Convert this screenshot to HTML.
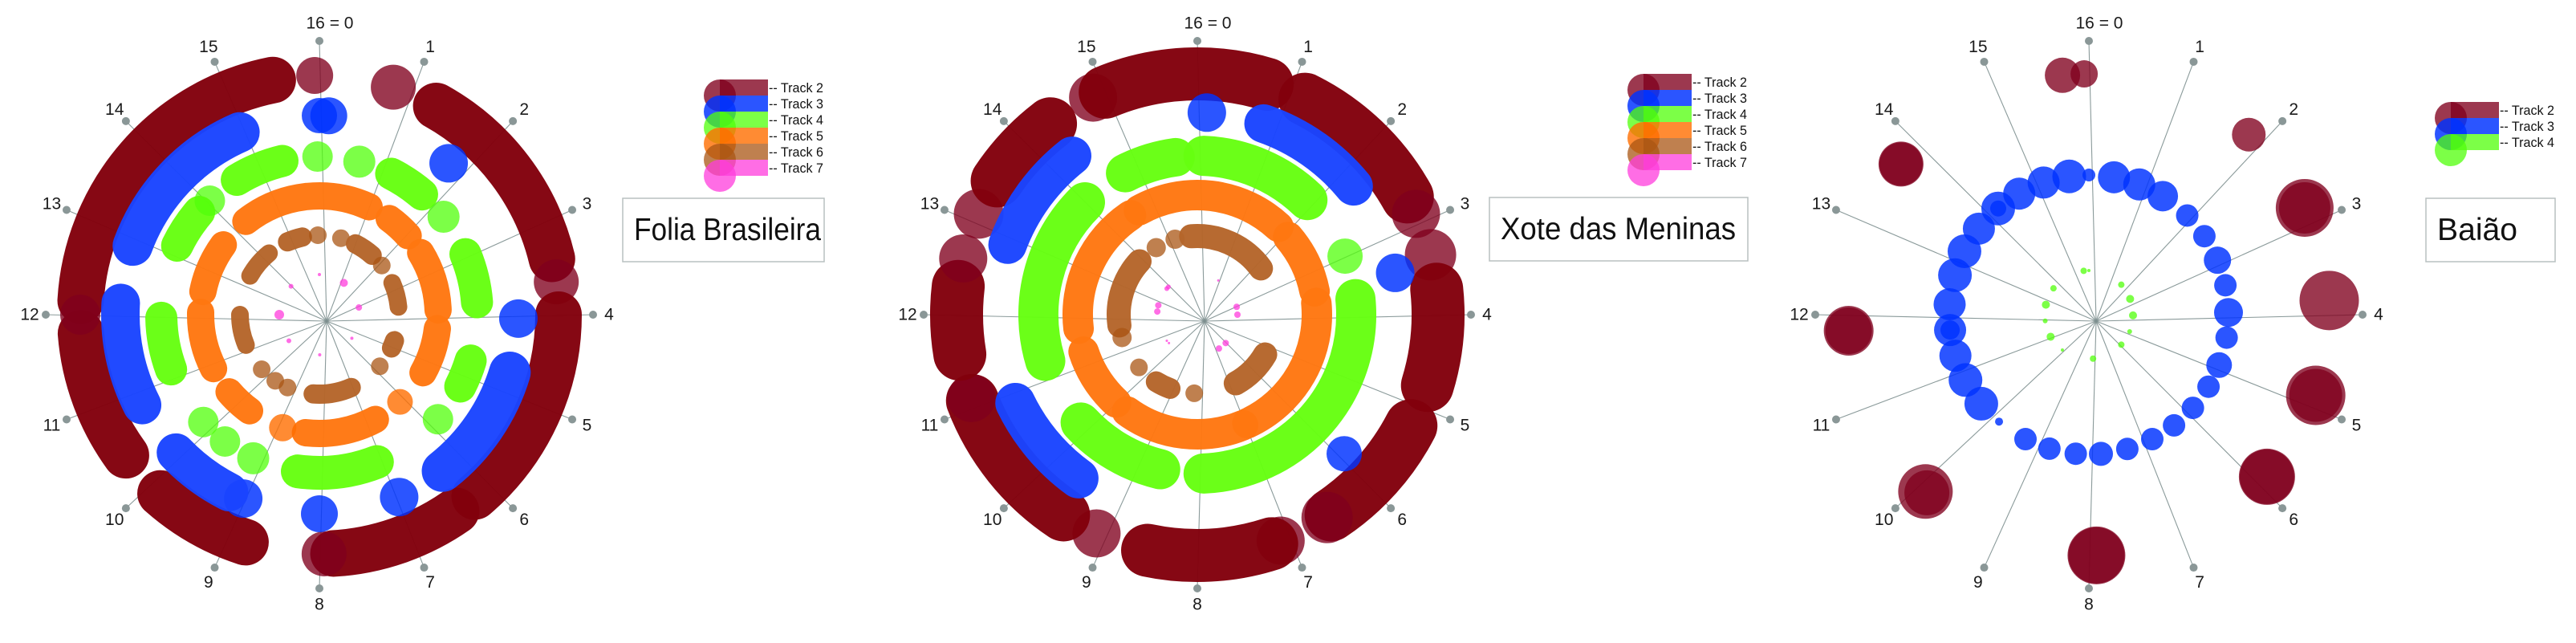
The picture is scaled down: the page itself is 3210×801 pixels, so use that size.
<!DOCTYPE html>
<html><head><meta charset="utf-8">
<style>
html,body{margin:0;padding:0;background:#fff;}
svg{display:block;font-family:"Liberation Sans",sans-serif;}
</style></head>
<body>
<svg id="chart" width="3210" height="801" viewBox="0 0 3210 801" xmlns="http://www.w3.org/2000/svg">
<rect width="3210" height="801" fill="#fff"/>
</svg>
<script>
// ---------- DATA (positions in 16ths of a bar, sizes = bubble radius) ----------
// Folia Brasileira
const folia_t2_start=[12.15,15.95,0.8,1.3,3.65,4.0,6.45,7.95,8.8,10.4,12.0];
const folia_t2_end  =[15.5,15.95,0.8,3.4,3.65,6.2,7.85,7.95,9.85,11.8,12.0];
const folia_t2_size =[29,23,28,29,28,29,29,28,29,29,25];
const folia_t3_start=[0.0,0.12,1.8,4.05,4.75,6.95,8.0,9.0,9.2,10.8,12.9];
const folia_t3_end  =[0.0,0.12,1.8,4.05,6.3,6.95,8.0,9.0,10.05,12.15,14.95];
const folia_t3_size =[22,23,24,24,26,24,23,24,24,24,25];
const folia_t4_start=[15.97,0.65,1.2,2.3,3.0,4.75,5.84,7.05,9.1,9.63,10.1,11.1,13.15,14.05,14.6];
const folia_t4_end  =[15.97,0.65,1.8,2.3,3.8,5.2,5.84,8.35,9.1,9.63,10.1,11.95,13.8,14.05,15.4];
const folia_t4_size =[19,20,20,20,20,20,19,21,20,19,19,20,20,19,20];
const folia_t5_start=[14.3,1.6,2.6,4.3,6.1,6.75,8.8,9.6,10.8,12.5];
const folia_t5_end  =[1.1,2.15,3.9,5.3,6.1,8.3,8.8,10.2,12.05,13.6];
const folia_t5_size =[17,17,17,17,16,17,17,17,17,17];
const folia_t6_start=[14.95,15.95,0.7,1.2,2.3,2.95,4.85,5.8,6.95,9.05,9.5,10.07,11.0,13.3];
const folia_t6_end  =[15.45,15.95,0.7,1.85,2.3,3.75,5.1,5.8,8.2,9.05,9.5,10.07,12.0,14.25];
const folia_t6_size =[12,11,11,12,11,11,12,11,12,11,11,11,11,11];
const folia_t7_start=[0.0,1.67,3.54,5.6,7.98,10.2,12.0,14.0];
const folia_t7_end  =[0.0,1.67,3.54,5.6,7.98,10.2,12.0,14.0];
const folia_t7_size =[2,5,4,2,2,3,6,3];
// Xote das Meninas
const xote_t2_start=[14.86,15.0,1.18,2.9,3.36,3.73,5.22,6.55,7.1,7.2,9.1,9.5,11.1,11.58,12.6,13.1,13.5];
const xote_t2_end  =[14.86,0.75,2.7,2.9,3.36,4.76,6.5,6.55,7.1,8.53,9.1,11.07,11.1,12.3,12.6,13.1,14.33];
const xote_t2_size =[30,33,33,30,32,33,33,32,30,33,30,33,30,33,30,31,33];
const xote_t3_start=[0.12,0.85,3.47,5.93,9.6,12.9];
const xote_t3_end  =[0.12,2.25,3.47,5.93,10.85,14.3];
const xote_t3_size =[24,24,24,22,25,24];
const xote_t4_start=[14.8,0.1,3.04,3.75,8.6,11.25];
const xote_t4_end  =[15.65,1.95,3.04,7.9,10.1,14.0];
const xote_t4_size =[24,25,22,25,25,25];
const xote_t5_start=[14.7,2.2,3.75,7.0,9.9,11.7];
const xote_t5_end  =[1.9,3.5,6.9,9.6,11.2,14.5];
const xote_t5_size =[19,19,19,19,19,19];
const xote_t6_start=[15.27,15.8,14.6,11.65,11.25,10.13,8.9,8.1,5.35];
const xote_t6_end  =[15.27,2.4,14.6,13.9,11.25,10.13,9.4,8.1,6.7];
const xote_t6_size =[12,15,12,15,12,11,13,11,15];
const xote_t7_start=[13.8,13.95,12.6,12.2,1.4,3.5,4.0,6.0,6.55,10.2,10.0];
const xote_t7_end  =[13.8,13.95,12.6,12.2,1.4,3.5,4.0,6.0,6.55,10.2,10.0];
const xote_t7_size =[3,3,4,4,1.5,4,4,4,4,1.5,1.5];
// Baião
const baiao_t2_start=[15.72,15.95,1.85,2.83,2.83,3.85,4.87,4.87,5.88,5.88,7.92,7.92,9.9,9.88,11.83,11.83,13.72,13.72];
const baiao_t2_end  =baiao_t2_start;
const baiao_t2_size =[22,17,21,36,32,37,37,33,35,34,36,35,34,28,31,29,28,27];
const baiao_t3_start=[0.0,0.46,0.94,1.42,1.99,2.48,2.98,3.46,3.96,4.42,4.94,5.38,5.86,6.33,6.8,7.29,7.78,8.24,8.73,9.2,9.78,10.24,10.76,11.24,11.72,11.72,12.19,12.73,13.2,13.69,14.2,14.2,14.67,15.16,15.64];
const baiao_t3_end  =baiao_t3_start;
const baiao_t3_size =[8,20,20,19,14,14,17,14,18,14,16,14,14,14,14,14,15,14,14,14,5,21,21,20,20,12,20,21,21,20,21,10,20,20,21];
const baiao_t4_start=[15.7,0.0,2.1,3.07,4.04,5.0,5.9,7.76,9.64,10.67,11.64,12.58,13.63];
const baiao_t4_end  =baiao_t4_start;
const baiao_t4_size =[4,2,4,5,5,3,4,4,2,5,3,5,4];
const axisLabels=["16 = 0","1","2","3","4","5","6","7","8","9","10","11","12","13","14","15"];
const trackNames=["Track 2","Track 3","Track 4","Track 5","Track 6","Track 7"];

// ---------- STYLE ----------
const NS="http://www.w3.org/2000/svg";
const svg=document.getElementById('chart');
const trackColor=["rgb(128,0,30)","rgb(0,50,255)","rgb(80,255,10)","rgb(255,110,0)","rgb(170,85,20)","rgb(255,60,220)"];
const arcColor=["#82000c","#1a44ff","#66ff11","#ff7711","#b5652a","#ff4ddd"];
const alphas=[0.78,0.83,0.75,0.8,0.75,0.75];

function mk(tag,attrs,parent){const e=document.createElementNS(NS,tag);for(const k in attrs)e.setAttribute(k,attrs[k]);(parent||svg).appendChild(e);return e;}
function pt(cx,cy,r,p){const a=p*Math.PI/8;return [cx+r*Math.sin(a),cy-r*Math.cos(a)];}

const plots=[
 {key:'folia',title:'Folia Brasileira',cx:398,cy:392,radii:[298,248,197,148,99,50],
  tracks:[[folia_t2_start,folia_t2_end,folia_t2_size],[folia_t3_start,folia_t3_end,folia_t3_size],[folia_t4_start,folia_t4_end,folia_t4_size],[folia_t5_start,folia_t5_end,folia_t5_size],[folia_t6_start,folia_t6_end,folia_t6_size],[folia_t7_start,folia_t7_end,folia_t7_size]],
  legend:{x:897,y:99},box:{x:776,y:247,w:251,h:79,tl:233}},
 {key:'xote',title:'Xote das Meninas',cx:1492,cy:392,radii:[300,252,198,149,98,50],
  tracks:[[xote_t2_start,xote_t2_end,xote_t2_size],[xote_t3_start,xote_t3_end,xote_t3_size],[xote_t4_start,xote_t4_end,xote_t4_size],[xote_t5_start,xote_t5_end,xote_t5_size],[xote_t6_start,xote_t6_end,xote_t6_size],[xote_t7_start,xote_t7_end,xote_t7_size]],
  legend:{x:2048,y:92},box:{x:1856,y:246,w:322,h:79,tl:293}},
 {key:'baiao',title:'Baião',cx:2603,cy:392,radii:[300,174,55],
  tracks:[[baiao_t2_start,baiao_t2_end,baiao_t2_size],[baiao_t3_start,baiao_t3_end,baiao_t3_size],[baiao_t4_start,baiao_t4_end,baiao_t4_size]],
  legend:{x:3054,y:127},box:{x:3023,y:247,w:161,h:79,tl:100}}
];

plots.forEach(P=>{
 const g=mk('g',{});
 
 
 // spokes, dots, labels (under marks)
 const ox=P.cx+9,oy=400;
 for(let k=0;k<16;k++){
  const [x,y]=pt(P.cx,P.cy,341,k);
  const l=mk('line',{x1:ox,y1:oy,x2:x,y2:y,stroke:'#7d8f8f','stroke-width':1.1,'stroke-opacity':0.9},g);
  
  
  const d=mk('circle',{cx:x,cy:y,r:5,fill:'#8a9797'},g);
  
  
  let [lx,ly]=pt(P.cx,P.cy,361,k);
  if(k===0){lx+=13;ly-=2;}
  const t=mk('text',{x:lx,y:ly,'text-anchor':'middle','dominant-baseline':'central','font-size':21,fill:'#1a1a1a'},g);
  t.textContent=axisLabels[k];
  
  
 }
 // marks
 P.tracks.forEach((T,ti)=>{
  const tg=mk('g',{},g);
  
  
  const [st,en,sz]=T; const r=P.radii[ti];
  for(let i=0;i<st.length;i++){
   let s=st[i],e=en[i]; if(e<s) e+=16;
   if(e-s<0.05){
    const [x,y]=pt(P.cx,P.cy,r,s);
    const c=mk('circle',{cx:x,cy:y,r:sz[i],fill:trackColor[ti],'fill-opacity':alphas[ti]},tg);
    
    
   }else{
    const [x1,y1]=pt(P.cx,P.cy,r,s),[x2,y2]=pt(P.cx,P.cy,r,e);
    const large=(e-s)>8?1:0;
    const p=mk('path',{d:`M${x1},${y1} A${r},${r} 0 ${large} 1 ${x2},${y2}`,fill:'none',stroke:arcColor[ti],'stroke-width':2*sz[i],'stroke-linecap':'round','stroke-opacity':0.97},tg);
    
    
   }
  }
 });
 // legend
 const lg=mk('g',{},g);
 
 
 P.tracks.forEach((T,ti)=>{
  const y0=P.legend.y+ti*20;
  const e=mk('g',{},lg);
  
  
  mk('rect',{x:P.legend.x,y:y0,width:60,height:20,fill:trackColor[ti],'fill-opacity':alphas[ti]},e);
  mk('circle',{cx:P.legend.x,cy:y0+20,r:20,fill:trackColor[ti],'fill-opacity':alphas[ti]},e);
  const t=mk('text',{x:P.legend.x+61,y:y0+16,'font-size':17,fill:'#111',textLength:68,lengthAdjust:'spacingAndGlyphs'},e);
  t.textContent='-- '+trackNames[ti];
 });
 // title box
 const b=P.box;
 const bx=mk('rect',{x:b.x,y:b.y,width:b.w,height:b.h,fill:'#fff',stroke:'#b8c0c0','stroke-width':1.5},g);
 
 
 const tt=mk('text',{x:b.x+14,y:b.y+52,'font-size':39,fill:'#111',textLength:b.tl,lengthAdjust:'spacingAndGlyphs'},g);
 tt.textContent=P.title;
 
 
});
</script>
</body></html>
